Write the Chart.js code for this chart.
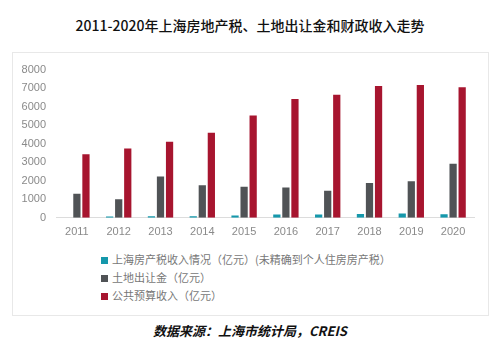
<!DOCTYPE html>
<html>
<head>
<meta charset="utf-8">
<script src="https://cdn.jsdelivr.net/npm/chart.js@4"></script>
<style>
  html, body { margin: 0; padding: 0; background: #fff; }
  body { width: 500px; height: 349px; position: relative; overflow: hidden;
         font-family: "Noto Sans CJK SC", "DejaVu Sans", sans-serif; }
  #title { position: absolute; left: 0; width: 500px; top: 15px; text-align: center;
           font-size: 14px; line-height: 20px; color: #111; font-weight: 500; }
  #box { position: absolute; left: 12px; top: 52px; width: 475px; height: 262px;
         border: 1px solid #e8e8e8; }
  #wrap { position: absolute; left: 0; top: 0; width: 476px; height: 197px; }
  #legend { position: absolute; left: 88px; top: 197px; font-size: 11px; color: #777; }
  #legend div { height: 18px; line-height: 18px; white-space: nowrap; }
  #legend span.sw { display: inline-block; width: 7px; height: 7px; margin-right: 4px; vertical-align: 0px; }
  #source { position: absolute; left: 0; width: 500px; top: 322px; text-align: center;
            font-size: 13px; line-height: 18px; font-weight: bold; font-style: italic; color: #111; }
</style>
</head>
<body>
<div id="title">2011-2020年上海房地产税、土地出让金和财政收入走势</div>
<div id="box">
  <div id="wrap"><canvas id="chart"></canvas></div>
  <div id="legend"></div>
</div>
<div id="source">数据来源：上海市统计局，CREIS</div>
<script>
// ---- data (亿元) ----
const years = ["2011", "2012", "2013", "2014", "2015", "2016", "2017", "2018", "2019", "2020"];
const propertyTax = [0, 70, 80, 90, 130, 180, 180, 210, 230, 190];
const landSales = [1300, 1000, 2230, 1760, 1670, 1630, 1460, 1880, 1970, 2920];
const publicBudget = [3430, 3740, 4110, 4590, 5520, 6410, 6640, 7110, 7170, 7050];
const yTicks = [0, 1000, 2000, 3000, 4000, 5000, 6000, 7000, 8000];

const seriesNames = [
  "上海房产税收入情况（亿元）(未精确到个人住房房产税）",
  "土地出让金（亿元）",
  "公共预算收入（亿元）"
];
const teal = "#1598ab";
const grey = "#505356";
const red = "#a7152f";

const barStyle = { categoryPercentage: 0.65, barPercentage: 0.8 };

const chart = new Chart(document.getElementById("chart"), {
  type: "bar",
  data: {
    labels: years,
    datasets: [
      { label: seriesNames[0], data: propertyTax, backgroundColor: teal, ...barStyle },
      { label: seriesNames[1], data: landSales, backgroundColor: grey, ...barStyle },
      { label: seriesNames[2], data: publicBudget, backgroundColor: red, ...barStyle }
    ]
  },
  options: {
    responsive: true,
    maintainAspectRatio: false,
    animation: false,
    layout: { padding: { left: 0, right: 15, top: 13, bottom: 3 } },
    plugins: {
      legend: { display: false },
      tooltip: { enabled: false }
    },
    scales: {
      x: {
        grid: { display: false, drawTicks: false },
        border: { display: true, color: "#dcdcdc" },
        ticks: { color: "#8a8a8a", font: { size: 11, family: "Liberation Sans" }, padding: 8, maxRotation: 0 }
      },
      y: {
        min: 0,
        max: 8000,
        afterBuildTicks: axis => { axis.ticks = yTicks.map(v => ({ value: v })); },
        afterFit: axis => { axis.width = 43; },
        grid: { display: false, drawTicks: false },
        border: { display: false },
        ticks: {
          color: "#8a8a8a", font: { size: 11, family: "Liberation Sans" }, padding: 10,
          callback: v => String(v)
        }
      }
    }
  }
});

// legend built from the chart's own legend items, stacked vertically
const legendBox = document.getElementById("legend");
chart.options.plugins.legend.labels.generateLabels(chart).forEach(item => {
  const row = document.createElement("div");
  row.innerHTML = `<span class="sw" style="background:${item.fillStyle}"></span>${item.text}`;
  legendBox.appendChild(row);
});
</script>
</body>
</html>
